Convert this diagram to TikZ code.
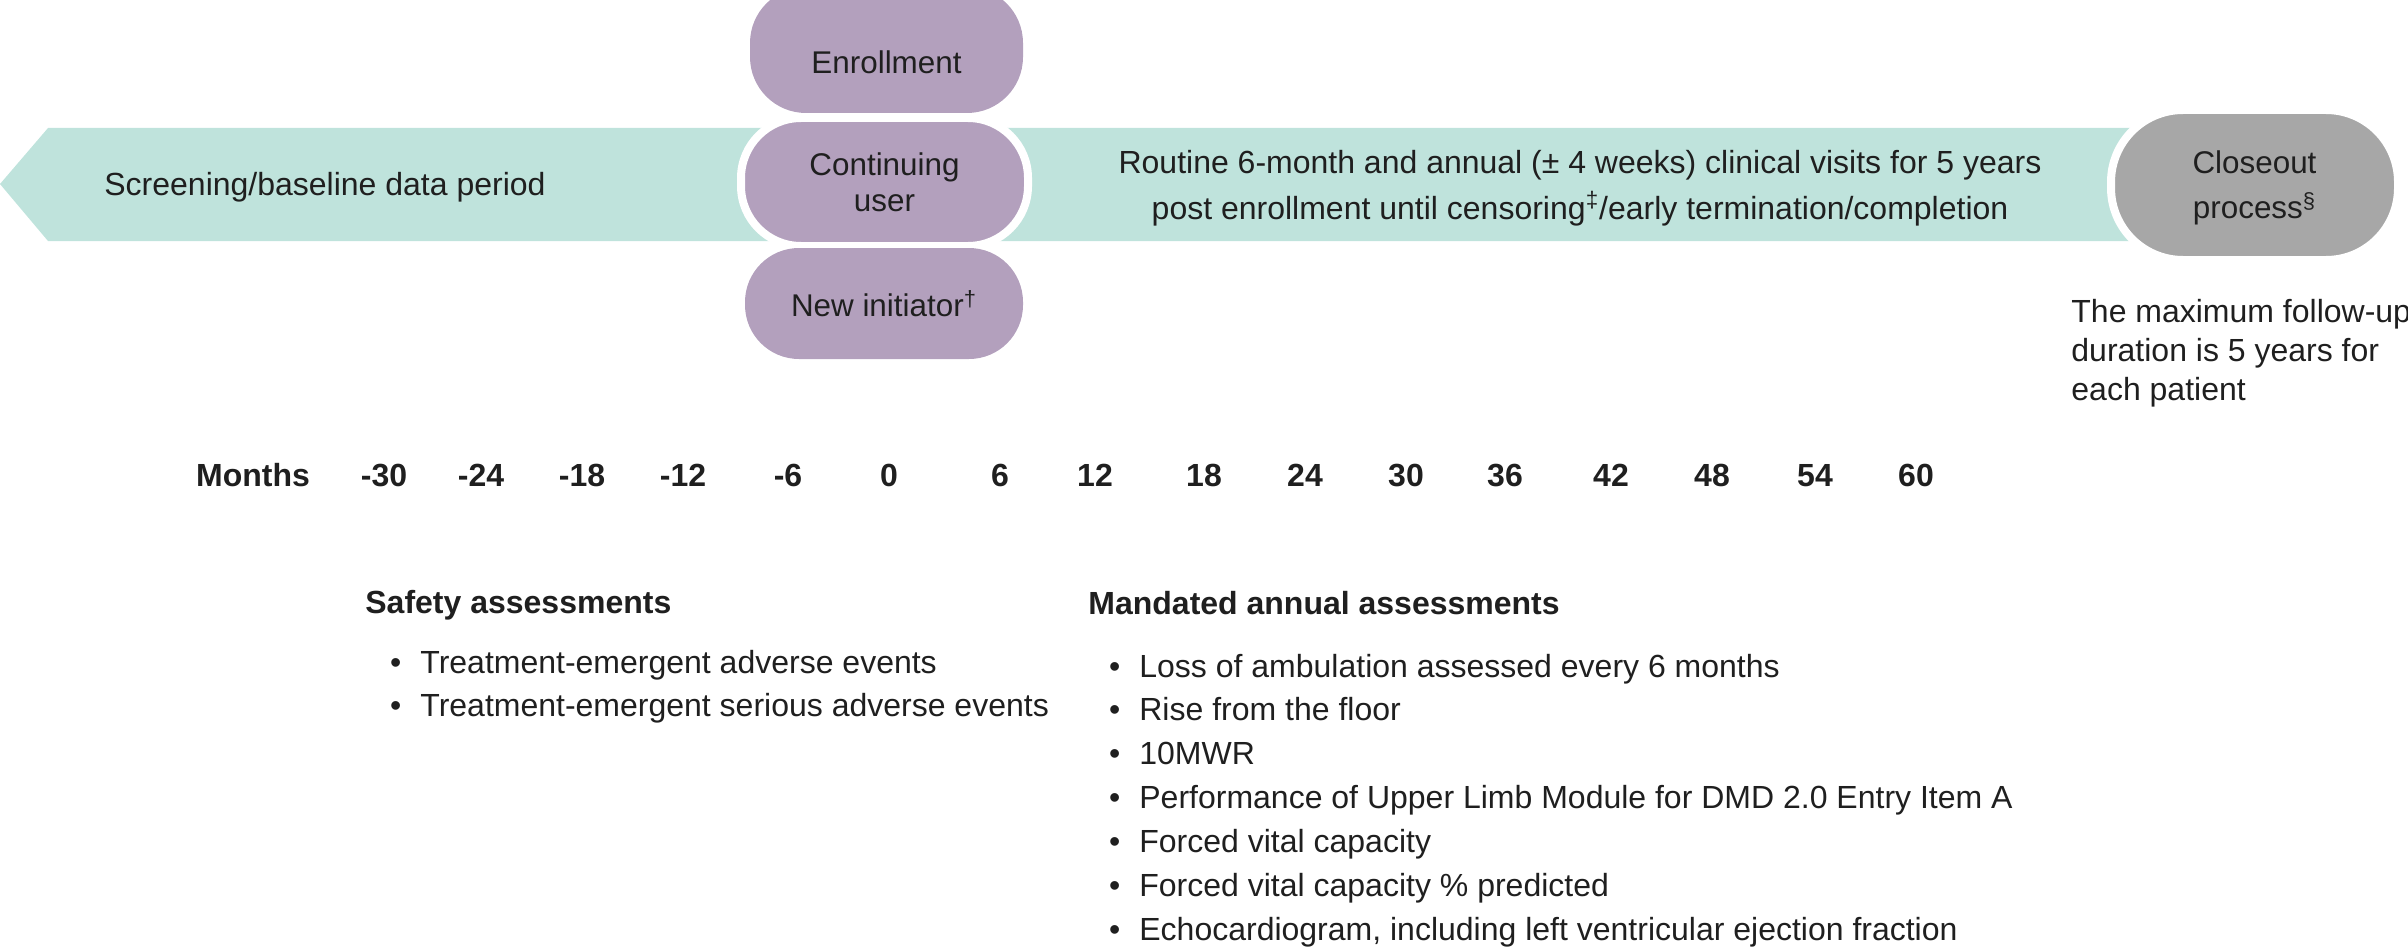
\documentclass[tikz,border=0pt]{standalone}
\usepackage{fontspec}
\setmainfont{Liberation Sans}
\definecolor{bandteal}{RGB}{191,227,220}
\definecolor{pillpurple}{RGB}{179,160,189}
\definecolor{closegray}{RGB}{167,167,167}
\tikzset{
	body/.style={font=\fontsize{16}{21}\selectfont, text=black!88, inner sep=0pt, text depth=0pt},
	pill/.style={body, fill=pillpurple, align=center, font=\fontsize{15.7}{18}\selectfont},
	ring/.style={draw=white, line width=4pt},
	head/.style={body, font=\fontsize{16}{21}\bfseries\selectfont, anchor=west},
	item/.style={body, anchor=west},
}
\begin{document}
\begin{tikzpicture}[x=0.5pt, y=-0.5pt]
	\useasboundingbox (0,0) rectangle (2408,947);
	\path [fill=bandteal] (0,184) -- (48,128) -- (2200,128) -- (2200,241) -- (48,241) -- cycle;
	\node [item] (screen) at (104,184) {Screening/baseline data period};
	\node [body, align=center, font=\fontsize{16}{23}\selectfont] (routine) at (1580,185) {Routine 6-month and annual (± 4 weeks) clinical visits for 5 years\\post enrollment until censoring\textsuperscript{\textdaggerdbl}/early termination/completion};
	\node [pill, rounded corners=28pt, text height=23.3pt, minimum width=136.5pt, minimum height=63pt] (enrol) at (886.5,50) {Enrollment};
	\node [pill, ring, rounded corners=30pt, minimum width=143.5pt, minimum height=64pt] (cont) at (884.5,182) {Continuing\\user};
	\node [pill, rounded corners=27pt, minimum width=139pt, minimum height=55.5pt] (newinit) at (884,303.5) {New initiator\textsuperscript{\textdagger}};
	\node [pill, ring, fill=closegray, font=\fontsize{15.7}{22.5}\selectfont, rounded corners=36pt, minimum width=143.5pt, minimum height=75pt] (close) at (2254.5,185) {Closeout\\process\textsuperscript{\S}};
	\node [item, align=left, font=\fontsize{16}{19.5}\selectfont] (maxfu) at (2071,350) {The maximum follow-up\\duration is 5 years for\\each patient};
	% time axis
	\node [head, anchor=center] (months) at (253,475) {Months};
	\node [head, anchor=center] (m30) at (384,475) {-30};
	\node [head, anchor=center] (m24) at (481,475) {-24};
	\node [head, anchor=center] (m18) at (582,475) {-18};
	\node [head, anchor=center] (m12) at (683,475) {-12};
	\node [head, anchor=center] (m6) at (788,475) {-6};
	\node [head, anchor=center] (p0) at (889,475) {0};
	\node [head, anchor=center] (p6) at (1000,475) {6};
	\node [head, anchor=center] (p12) at (1095,475) {12};
	\node [head, anchor=center] (p18) at (1204,475) {18};
	\node [head, anchor=center] (p24) at (1305,475) {24};
	\node [head, anchor=center] (p30) at (1406,475) {30};
	\node [head, anchor=center] (p36) at (1505,475) {36};
	\node [head, anchor=center] (p42) at (1611,475) {42};
	\node [head, anchor=center] (p48) at (1712,475) {48};
	\node [head, anchor=center] (p54) at (1815,475) {54};
	\node [head, anchor=center] (p60) at (1916,475) {60};
	% assessments
	\node [head] (safety) at (365,602) {Safety assessments};
	\node [item] (sa1) at (420,662) {\llap{\textbullet\hspace{9.5pt}}Treatment-emergent adverse events};
	\node [item] (sa2) at (420,705) {\llap{\textbullet\hspace{9.5pt}}Treatment-emergent serious adverse events};
	\node [head] (mandated) at (1088,603) {Mandated annual assessments};
	\node [item] (ma1) at (1139,666) {\llap{\textbullet\hspace{9.5pt}}Loss of ambulation assessed every 6 months};
	\node [item] (ma2) at (1139,709) {\llap{\textbullet\hspace{9.5pt}}Rise from the floor};
	\node [item] (ma3) at (1139,753) {\llap{\textbullet\hspace{9.5pt}}10MWR};
	\node [item] (ma4) at (1139,797) {\llap{\textbullet\hspace{9.5pt}}Performance of Upper Limb Module for DMD 2.0 Entry Item A};
	\node [item] (ma5) at (1139,841) {\llap{\textbullet\hspace{9.5pt}}Forced vital capacity};
	\node [item] (ma6) at (1139,885) {\llap{\textbullet\hspace{9.5pt}}Forced vital capacity \% predicted};
	\node [item] (ma7) at (1139,929) {\llap{\textbullet\hspace{9.5pt}}Echocardiogram, including left ventricular ejection fraction};
\end{tikzpicture}
\end{document}
